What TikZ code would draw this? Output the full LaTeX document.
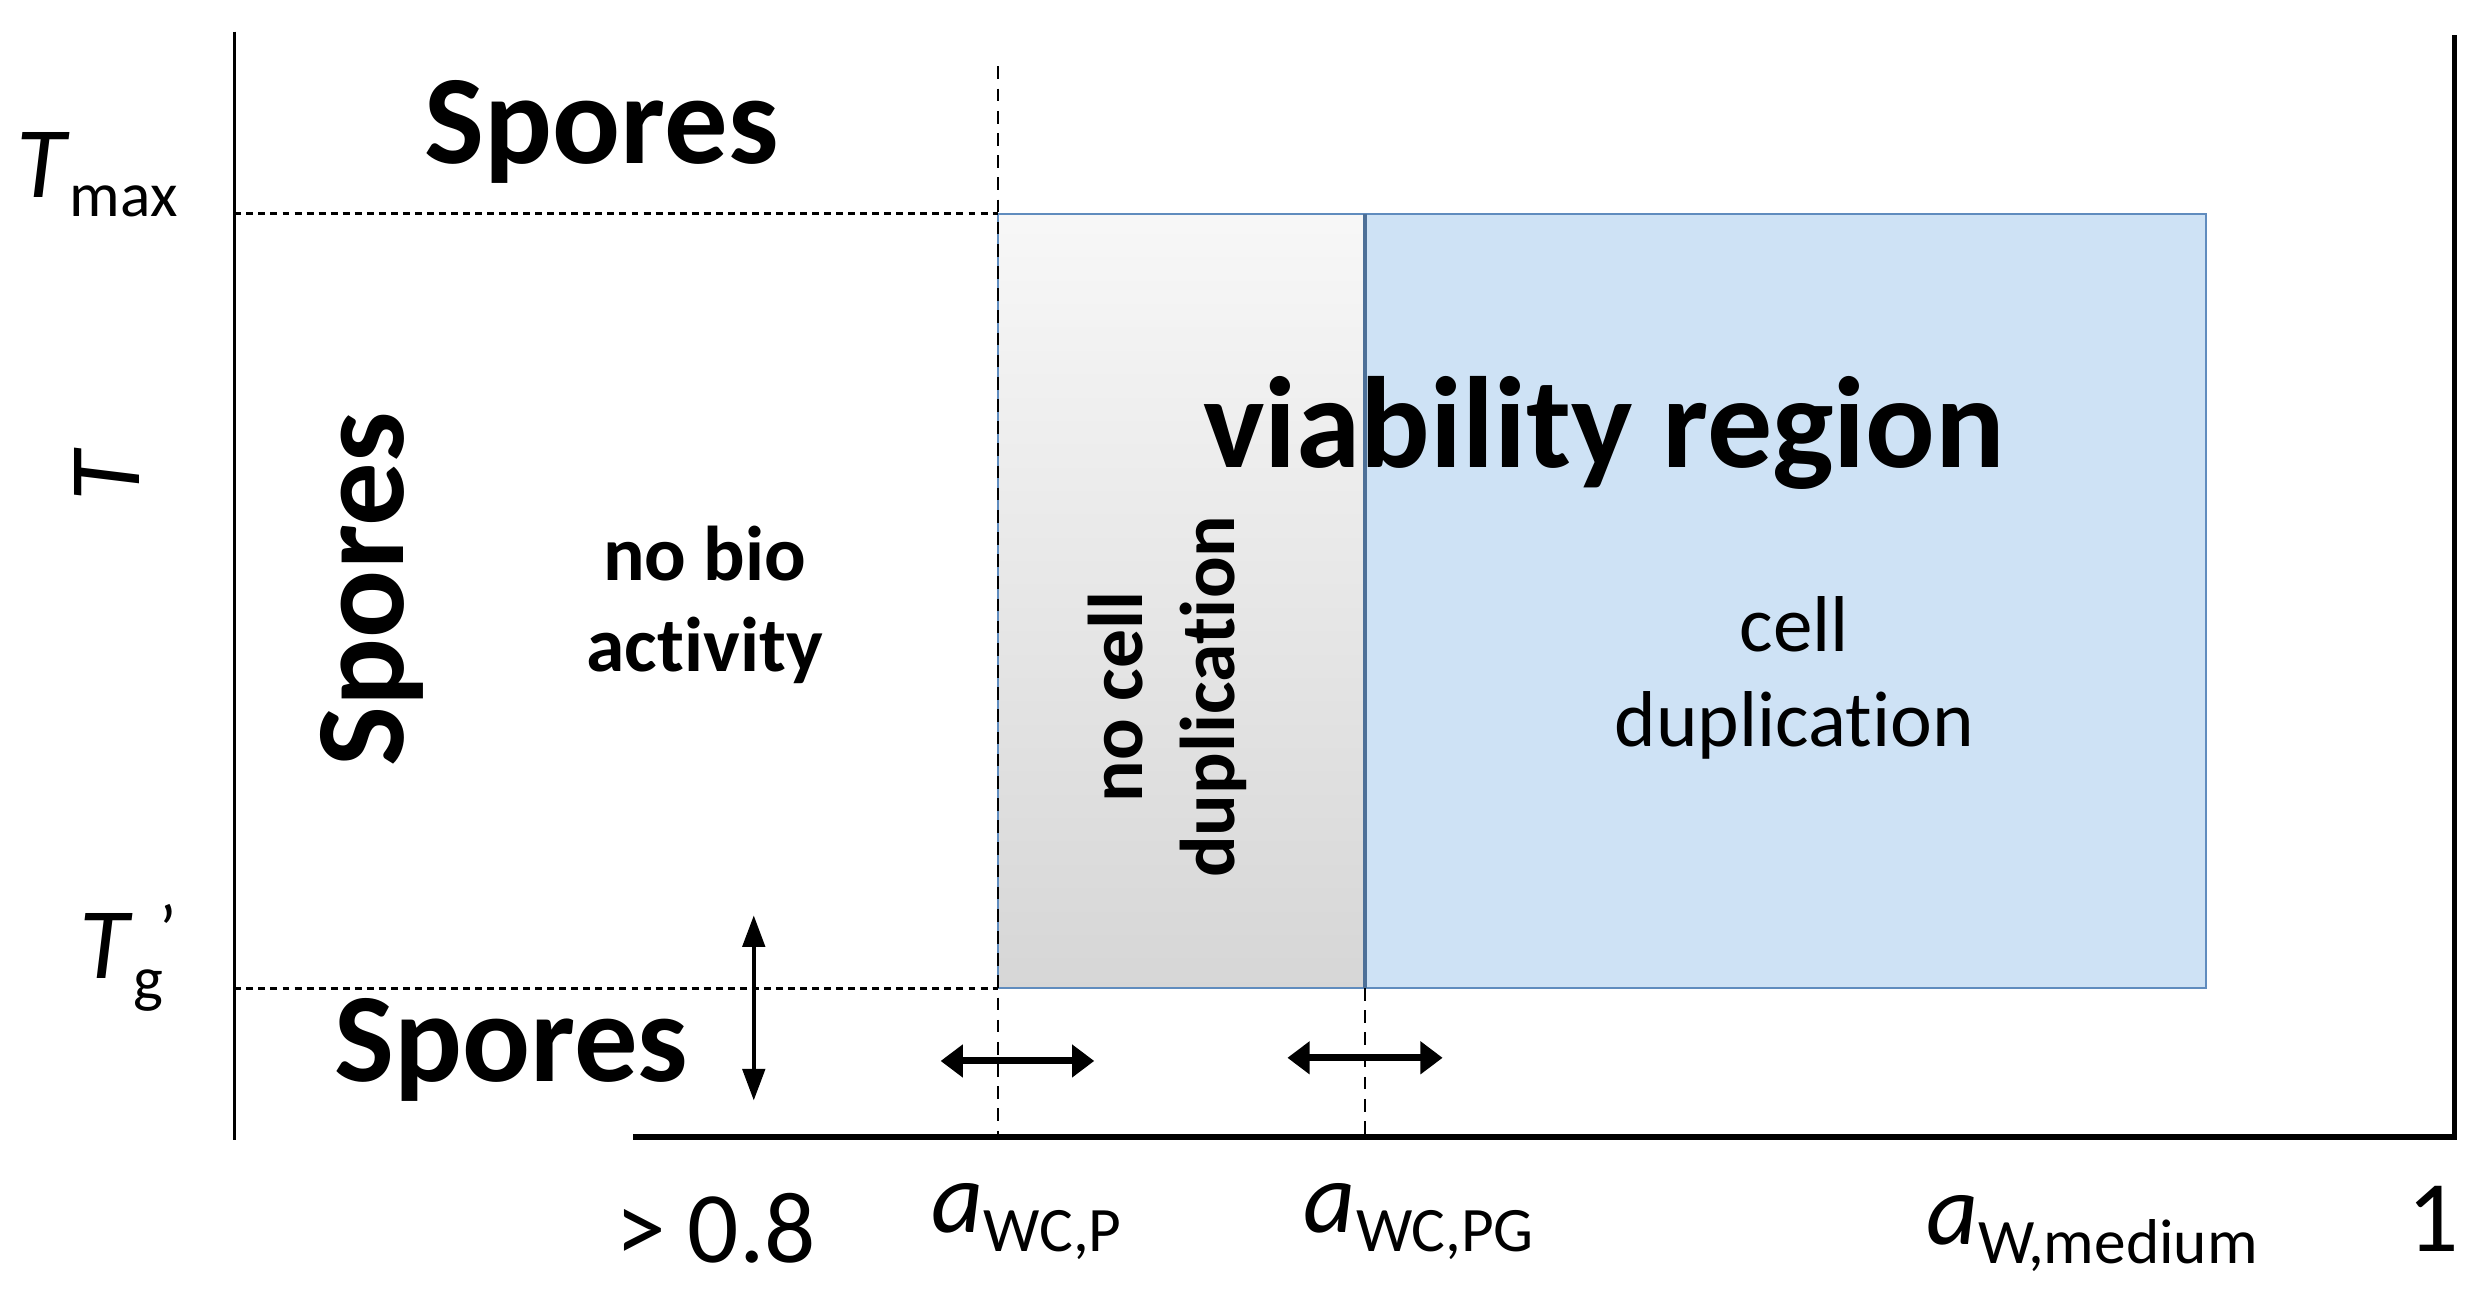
\documentclass[tikz,border=0pt]{standalone}
\usepackage{fontspec}
\setmainfont{Carlito}[Ligatures=NoCommon, RawFeature=-liga]
\usetikzlibrary{arrows.meta}

\definecolor{cellblue}{RGB}{206,226,245}
\definecolor{edgeblue}{RGB}{96,140,190}
\newcommand\axsub[2]{#1\raisebox{-6pt}{\fontsize{20}{22}\selectfont #2}}

\begin{document}
\begin{tikzpicture}[x=0.5pt,y=0.5pt,yscale=-1,xscale=1,
  bigtext/.style={font=\fontsize{40}{44}\selectfont\bfseries, inner sep=0pt},
  midtext/.style={font=\fontsize{24.5}{29}\selectfont\bfseries, inner sep=0pt, align=center},
  axtext/.style={font=\fontsize{32}{36}\selectfont, inner sep=0pt},
  dashline/.style={dash pattern=on 2.2pt off 1.6pt, line width=1pt},
  vdashline/.style={dash pattern=on 4pt off 3pt, line width=0.6pt},
  dblarrow/.style={{Triangle[length=7pt,width=10pt]}-{Triangle[length=7pt,width=10pt]}, line width=2.2pt}
]
\useasboundingbox (0,0) rectangle (1568,822);

%Shape: Rectangle (no cell duplication)
\shade [top color=white!97!black, bottom color=black!16, draw=edgeblue, line width=0.6pt] (630,135) rectangle (862,624) ;
%Shape: Rectangle (cell duplication)
\draw [fill=cellblue, draw=edgeblue, line width=0.6pt] (862,135) rectangle (1393,624) ;
\draw [color=edgeblue!80!black, line width=1.2pt] (862,135) -- (862,624) ;

%Axes
\coordinate (yTop) at (148,20) ;
\coordinate (yBot) at (148,720) ;
\coordinate (xLeft) at (400,718) ;
\coordinate (xRight) at (1550,718) ;
\coordinate (rTop) at (1550,22) ;
\draw [line width=1.1pt] (yTop) -- (yBot) ;
\draw [line width=1.8pt] (xLeft) -- (xRight) -- (rTop) ;

%Straight Lines (dashed levels)
\coordinate (tmaxL) at (148,135) ;
\coordinate (tmaxR) at (630,135) ;
\coordinate (tgL) at (148,624) ;
\coordinate (tgR) at (630,624) ;
\draw [dashline] (tmaxL) -- (tmaxR) ;
\draw [dashline] (tgL) -- (tgR) ;
\coordinate (wcpTop) at (630,42) ;
\coordinate (wcpBot) at (630,718) ;
\coordinate (wcpgTop) at (862,624) ;
\coordinate (wcpgBot) at (862,718) ;
\draw [vdashline] (wcpTop) -- (wcpBot) ;
\draw [vdashline] (wcpgTop) -- (wcpgBot) ;

%Straight Lines (double arrows)
\coordinate (vaTop) at (476,578) ;
\coordinate (vaBot) at (476,695) ;
\draw [{Triangle[length=10pt,width=7pt]}-{Triangle[length=10pt,width=7pt]}, line width=1.4pt] (vaTop) -- (vaBot) ;
\coordinate (haL) at (594,670) ;
\coordinate (haR) at (691,670) ;
\draw [dblarrow] (haL) -- (haR) ;
\coordinate (hbL) at (813,668) ;
\coordinate (hbR) at (911,668) ;
\draw [dblarrow] (hbL) -- (hbR) ;

% Text Node
\draw (380,103) node (sporesTop) [anchor=base] [bigtext] {Spores};
% Text Node
\draw (255,372) node (sporesLeft) [anchor=base, rotate=90] [bigtext] {Spores};
% Text Node
\draw (323,683) node (sporesBot) [anchor=base] [bigtext] {Spores};
% Text Node
\draw (1013,295) node (viab) [anchor=base] [bigtext, font=\fontsize{41}{44}\selectfont\bfseries] {viability region};
% Text Node
\draw (445,382) node (noBio) [midtext] {no bio\\activity};
% Text Node
\draw (737,440) node (noCell) [midtext, rotate=90] {no cell\\duplication};
% Text Node
\draw (1133,428) node (cellDup) [midtext, font=\fontsize{25}{30}\selectfont] {cell\\duplication};

% Text Node
\draw (10,125) node (tmax) [anchor=base west] [axtext] {\axsub{\textit{T}}{max}};
% Text Node
\draw (88,300) node (tAxis) [anchor=base, rotate=90] [axtext] {\textit{T}};
% Text Node
\draw (50,618) node (tg) [anchor=base west] [axtext] {\textit{T}\raisebox{-7pt}{\fontsize{20}{22}\selectfont g}\kern-1pt\raisebox{8pt}{\fontsize{22}{24}\selectfont ’}};
% Text Node
\draw (452,797) node (low) [anchor=base] [axtext] {>\kern7pt0.8};
% Text Node
\draw (588,778) node (awcp) [anchor=base west] [axtext] {\axsub{\textit{a}}{WC,P}};
% Text Node
\draw (823,778) node (awcpg) [anchor=base west] [axtext] {\axsub{\textit{a}}{WC,PG}};
% Text Node
\draw (1216,786) node (awmed) [anchor=base west] [axtext] {\axsub{\textit{a}}{W,medium}};
% Text Node
\draw (1553,790) node (one) [anchor=base east] [axtext] {1};

\end{tikzpicture}
\end{document}
